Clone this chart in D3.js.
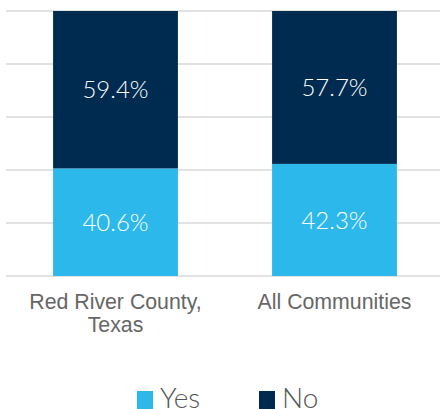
<!DOCTYPE html>
<html>
<head>
<meta charset="utf-8">
<script src="https://cdn.jsdelivr.net/npm/d3@7"></script>
<style>
  body { margin: 0; background: #fff; }
</style>
</head>
<body>
<div id="chart"></div>
<script>
const categories = ["Red River County, Texas", "All Communities"];
const categoryLines = [["Red River County,", "Texas"], ["All Communities"]];
const seriesNames = ["Yes", "No"];
const yesValues = [40.6, 42.3];
const noValues = [59.4, 57.7];
const yTicks = [0, 20, 40, 60, 80, 100];
const colors = { Yes: "#2db8eb", No: "#002b50" };

const width = 440, height = 409;
const svg = d3.select("#chart").append("svg")
    .attr("width", width)
    .attr("height", height);

// scales
const x = d3.scaleBand()
    .domain(categories)
    .range([6, 444])
    .paddingInner(0.43)
    .paddingOuter(0.215);
const y = d3.scaleLinear().domain([0, 100]).range([276, 11]);

// gridlines
svg.append("g").selectAll("line")
    .data(yTicks)
    .join("line")
    .attr("x1", 6).attr("x2", width)
    .attr("y1", d => y(d)).attr("y2", d => y(d))
    .attr("stroke", "#d9d9d9")
    .attr("stroke-width", 1.5);

// stacked data
const rows = categories.map((c, i) => ({ cat: c, Yes: yesValues[i], No: noValues[i] }));
const stacked = d3.stack().keys(seriesNames)(rows);

const layers = svg.append("g").selectAll("g")
    .data(stacked)
    .join("g")
    .attr("fill", d => colors[d.key]);

layers.selectAll("rect")
    .data(d => d)
    .join("rect")
    .attr("x", d => x(d.data.cat))
    .attr("width", x.bandwidth())
    .attr("y", d => y(d[1]))
    .attr("height", d => y(d[0]) - y(d[1]));

// value labels
layers.selectAll("text")
    .data(d => d)
    .join("text")
    .attr("x", d => x(d.data.cat) + x.bandwidth() / 2)
    .attr("y", d => (y(d[0]) + y(d[1])) / 2)
    .attr("dy", "0.36em")
    .attr("text-anchor", "middle")
    .attr("fill", "#fff")
    .attr("font-family", "Lato, sans-serif")
    .attr("font-weight", 300)
    .attr("font-size", "24px")
    .text(d => d3.format(".1f")(d[1] - d[0]) + "%");

// category labels
const catG = svg.append("g").selectAll("text")
    .data(categories)
    .join("text")
    .attr("x", d => x(d) + x.bandwidth() / 2)
    .attr("y", 309)
    .attr("text-anchor", "middle")
    .attr("fill", "#666")
    .attr("font-family", "'Liberation Sans', Arial, sans-serif")
    .attr("font-size", "21.3px");

catG.selectAll("tspan")
    .data((d, i) => categoryLines[i])
    .join("tspan")
    .attr("x", function() { return d3.select(this.parentNode).attr("x"); })
    .attr("dy", (d, i) => i === 0 ? 0 : 23)
    .text(d => d);

// legend
const legend = svg.append("g").selectAll("g")
    .data(seriesNames)
    .join("g")
    .attr("transform", (d, i) => `translate(${137 + i * 122}, 391)`);

legend.append("rect")
    .attr("width", 16)
    .attr("height", 18)
    .attr("fill", d => colors[d]);

legend.append("text")
    .attr("x", 23)
    .attr("y", 17)
    .attr("fill", "#555")
    .attr("font-family", "Lato, sans-serif")
    .attr("font-weight", 300)
    .attr("font-size", "28px")
    .text(d => d);
</script>
</body>
</html>
